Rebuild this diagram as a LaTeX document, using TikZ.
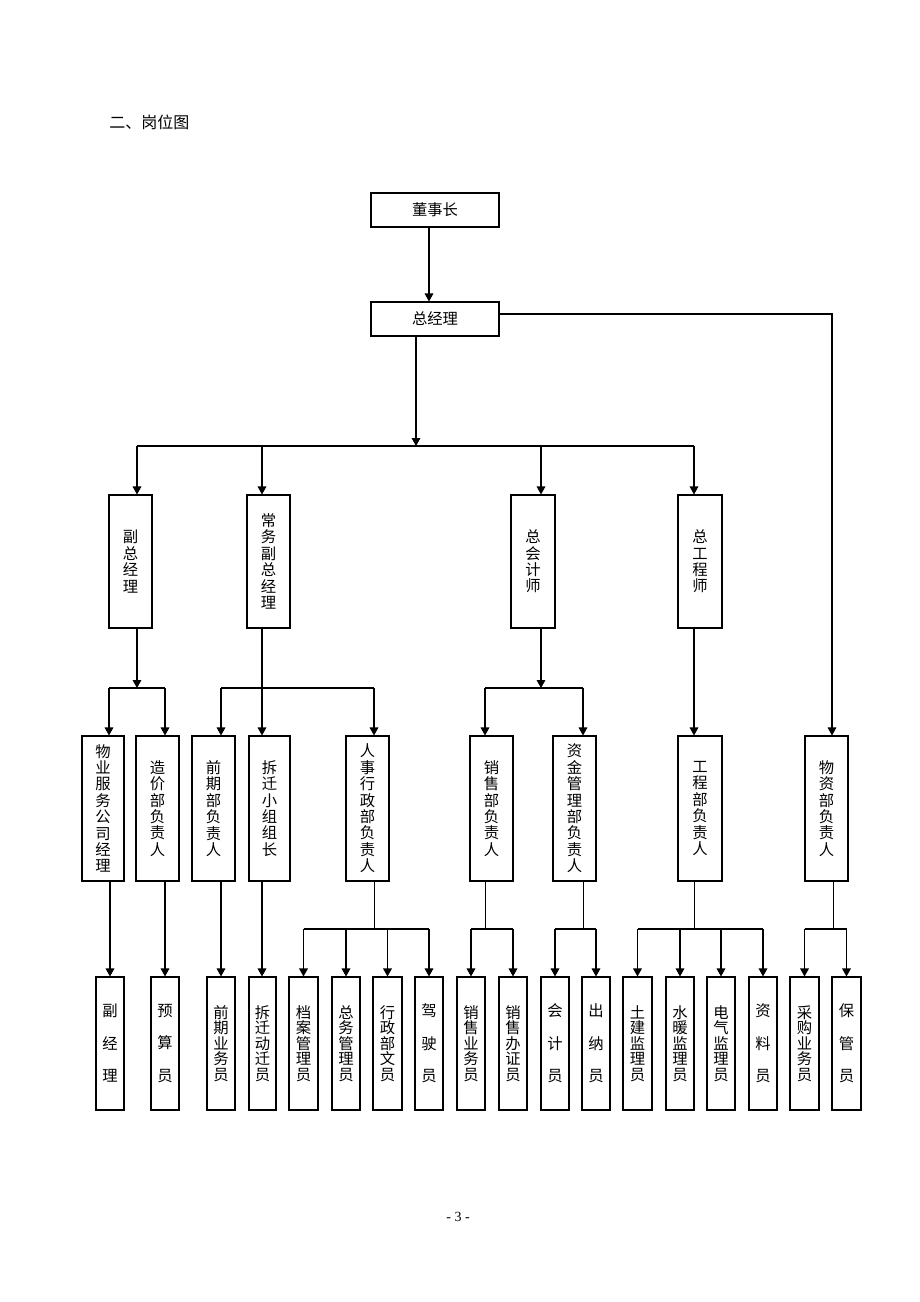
\documentclass[tikz,border=0pt]{standalone}
\usepackage{fontspec}
\setmainfont{Liberation Serif}
\newfontfamily\cjk{Noto Sans CJK SC}
\usetikzlibrary{arrows.meta}
\newcommand\bx[7][box]{\node[#1, minimum width={(#5-#3)*0.75pt}, minimum height={(#6-#4)*0.75pt}] (#2) at ({(#3+#5)/2},{(#4+#6)/2}) {#7};}
\tikzset{
  box/.style={draw, line width=0.8pt, inner sep=0pt, align=center, font={\cjk\fontsize{11.5pt}{12.3pt}\selectfont}},
  boxb/.style={box, font={\cjk\fontsize{11.5pt}{11.6pt}\selectfont}},
  conn/.style={line width=0.8pt},
  arr/.style={line width=0.8pt, -{Triangle[length=6pt,width=6.5pt]}},
  stem/.style={line width=0.6pt},
}
\begin{document}
\begin{tikzpicture}[x=0.75pt,y=-0.75pt]
\fill[white] (0,0) rectangle (920,1302);
\useasboundingbox (0,0) rectangle (920,1302);

\node[anchor=west, inner sep=0pt, font={\cjk\fontsize{12pt}{14pt}\selectfont}] (title) at (109,122) {二、岗位图};
\node[inner sep=0pt, font={\fontsize{10.5pt}{12pt}\selectfont}] (pg) at (458,1217) {- 3 -};

% level 0/1
\bx{dsz}{371}{193}{499}{227}{董事长}
\bx{zjl}{371}{302}{499}{336}{总经理}
% level 2
\bx{fz}{109}{495}{152}{628}{副\\总\\经\\理}
\bx{cw}{247}{495}{290}{628}{常\\务\\副\\总\\经\\理}
\bx{zk}{511}{495}{555}{628}{总\\会\\计\\师}
\bx{zg}{678}{495}{722}{628}{总\\工\\程\\师}
% level 3
\bx{wy}{82}{736}{124}{881}{物\\业\\服\\务\\公\\司\\经\\理}
\bx{zj}{136}{736}{179}{881}{造\\价\\部\\负\\责\\人}
\bx{qq}{192}{736}{235}{881}{前\\期\\部\\负\\责\\人}
\bx{cq}{249}{736}{290}{881}{拆\\迁\\小\\组\\组\\长}
\bx{rs}{346}{736}{389}{881}{人\\事\\行\\政\\部\\负\\责\\人}
\bx{xs}{470}{736}{513}{881}{销\\售\\部\\负\\责\\人}
\bx{zjg}{553}{736}{596}{881}{资\\金\\管\\理\\部\\负\\责\\人}
\bx{gc}{678}{736}{722}{881}{工\\程\\部\\负\\责\\人}
\bx{wz}{805}{736}{848}{881}{物\\资\\部\\负\\责\\人}
% level 4
\bx[boxb]{fjl}{96}{977}{124}{1110}{副\\[12.8pt]经\\[12.8pt]理}
\bx[boxb]{ysy}{151}{977}{179}{1110}{预\\[12.8pt]算\\[12.8pt]员}
\bx[boxb]{qyy}{207}{977}{235}{1110}{前\\期\\业\\务\\员}
\bx[boxb]{cqy}{249}{977}{276}{1110}{拆\\迁\\动\\迁\\员}
\bx[boxb]{da}{289}{977}{318}{1110}{档\\案\\管\\理\\员}
\bx[boxb]{zw}{332}{977}{360}{1110}{总\\务\\管\\理\\员}
\bx[boxb]{xz}{373}{977}{402}{1110}{行\\政\\部\\文\\员}
\bx[boxb]{js}{415}{977}{443}{1110}{驾\\[12.8pt]驶\\[12.8pt]员}
\bx[boxb]{xsy}{457}{977}{485}{1110}{销\\售\\业\\务\\员}
\bx[boxb]{bz}{499}{977}{527}{1110}{销\\售\\办\\证\\员}
\bx[boxb]{kj}{541}{977}{569}{1110}{会\\[12.8pt]计\\[12.8pt]员}
\bx[boxb]{cn}{582}{977}{610}{1110}{出\\[12.8pt]纳\\[12.8pt]员}
\bx[boxb]{tj}{623}{977}{652}{1110}{土\\建\\监\\理\\员}
\bx[boxb]{sn}{666}{977}{694}{1110}{水\\暖\\监\\理\\员}
\bx[boxb]{dq}{707}{977}{735}{1110}{电\\气\\监\\理\\员}
\bx[boxb]{zl}{749}{977}{777}{1110}{资\\[12.8pt]料\\[12.8pt]员}
\bx[boxb]{cg}{790}{977}{819}{1110}{采\\购\\业\\务\\员}
\bx[boxb]{bg}{832}{977}{861}{1110}{保\\[12.8pt]管\\[12.8pt]员}

% connectors level 0 -> 1
\coordinate (a0) at (429,0);
\draw[arr] (dsz.south -| a0) -- (zjl.north -| a0);
% level 1 -> 2
\coordinate (b0) at (416,446);
\draw[arr] (zjl.south -| b0) -- (b0);
\coordinate (b1) at (137,446);
\coordinate (b2) at (262,446);
\coordinate (b3) at (541,446);
\coordinate (b4) at (694,446);
\draw[conn] (b1) -- (b4);
\draw[arr] (b1) -- (fz.north -| b1);
\draw[arr] (b2) -- (cw.north -| b2);
\draw[arr] (b3) -- (zk.north -| b3);
\draw[arr] (b4) -- (zg.north -| b4);
% right branch
\coordinate (r0) at (832,314);
\draw[arr] (zjl.east |- r0) -- (r0) -- (wz.north -| r0);
% level 2 -> 3
\coordinate (c1) at (137,688);
\coordinate (c1a) at (109,688);
\coordinate (c1b) at (165,688);
\draw[arr] (fz.south -| c1) -- (c1);
\draw[conn] (c1a) -- (c1b);
\draw[arr] (c1a) -- (wy.north -| c1a);
\draw[arr] (c1b) -- (zj.north -| c1b);

\coordinate (c2) at (262,688);
\coordinate (c2a) at (221,688);
\coordinate (c2b) at (374,688);
\draw[arr] (cw.south -| c2) -- (cq.north -| c2);
\draw[conn] (c2a) -- (c2b);
\draw[arr] (c2a) -- (qq.north -| c2a);
\draw[arr] (c2b) -- (rs.north -| c2b);

\coordinate (c3) at (541,688);
\coordinate (c3a) at (485,688);
\coordinate (c3b) at (583,688);
\draw[arr] (zk.south -| c3) -- (c3);
\draw[conn] (c3a) -- (c3b);
\draw[arr] (c3a) -- (xs.north -| c3a);
\draw[arr] (c3b) -- (zjg.north -| c3b);

\coordinate (c4) at (694,0);
\draw[arr] (zg.south -| c4) -- (gc.north -| c4);

% level 3 -> 4 direct
\coordinate (d1) at (110,0);
\coordinate (d2) at (165,0);
\coordinate (d3) at (221,0);
\coordinate (d4) at (262,0);
\draw[arr] (wy.south -| d1) -- (fjl.north -| d1);
\draw[arr] (zj.south -| d2) -- (ysy.north -| d2);
\draw[arr] (qq.south -| d3) -- (qyy.north -| d3);
\draw[arr] (cq.south -| d4) -- (cqy.north -| d4);

% level 3 -> 4 via buses
\coordinate (e1) at (374,929);
\draw[stem] (rs.south -| e1) -- (e1);
\draw[conn] (da.north |- e1) -- (js.north |- e1);
\foreach \n in {da,zw,xz,js} \draw[arr] (\n.north |- e1) -- (\n.north);

\coordinate (e2) at (485,929);
\draw[stem] (xs.south -| e2) -- (e2);
\draw[conn] (xsy.north |- e2) -- (bz.north |- e2);
\foreach \n in {xsy,bz} \draw[arr] (\n.north |- e2) -- (\n.north);

\coordinate (e3) at (583,929);
\draw[stem] (zjg.south -| e3) -- (e3);
\draw[conn] (kj.north |- e3) -- (cn.north |- e3);
\foreach \n in {kj,cn} \draw[arr] (\n.north |- e3) -- (\n.north);

\coordinate (e4) at (694,929);
\draw[stem] (gc.south -| e4) -- (e4);
\draw[conn] (tj.north |- e4) -- (zl.north |- e4);
\foreach \n in {tj,sn,dq,zl} \draw[arr] (\n.north |- e4) -- (\n.north);

\coordinate (e5) at (833,929);
\draw[stem] (wz.south -| e5) -- (e5);
\draw[conn] (cg.north |- e5) -- (bg.north |- e5);
\foreach \n in {cg,bg} \draw[arr] (\n.north |- e5) -- (\n.north);
\end{tikzpicture}
\end{document}
